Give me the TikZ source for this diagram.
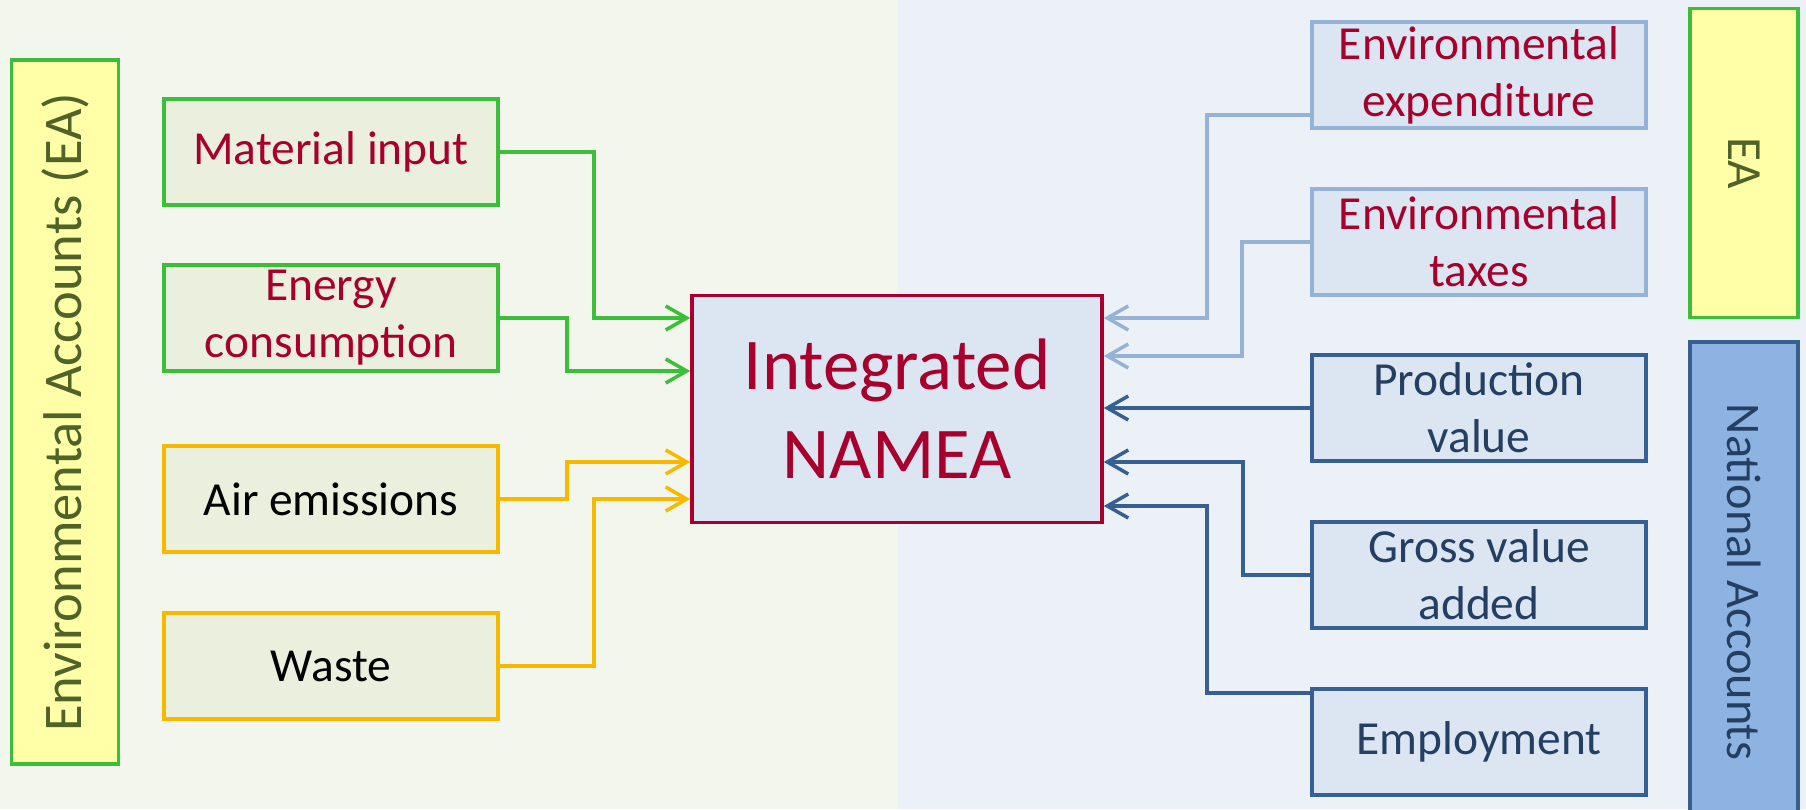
\documentclass[tikz,border=0pt]{standalone}
\usepackage{fontspec}
\setmainfont{Carlito}
\usetikzlibrary{arrows.meta}

\definecolor{leftbg}{HTML}{F3F6EC}
\definecolor{rightbg}{HTML}{ECF1F8}
\definecolor{greenline}{HTML}{3DBE3A}
\definecolor{orangeline}{HTML}{F7B900}
\definecolor{paleblue}{HTML}{95B3D7}
\definecolor{darkblue}{HTML}{376092}
\definecolor{crimson}{HTML}{A8002C}
\definecolor{navytext}{HTML}{243F62}
\definecolor{olivetext}{HTML}{4F6228}
\definecolor{greenfill}{HTML}{EBF0DE}
\definecolor{bluefill}{HTML}{DCE6F2}
\definecolor{barfill}{HTML}{FFFFA8}
\definecolor{nafill}{HTML}{8DB3E2}

\newcommand{\boxfont}{\fontsize{27pt}{32.5pt}\selectfont}
\newcommand{\bigfont}{\fontsize{41.5pt}{50.5pt}\selectfont}

\tikzset{
	envbox/.style   = {draw=greenline, fill=greenfill, rectangle, text=crimson,
		minimum width = 66.8mm, minimum height = 21.2mm, inner sep=0pt,
		align=center, font=\boxfont},
	resbox/.style   = {envbox, draw=orangeline, text=black},
	expbox/.style   = {envbox, draw=paleblue, fill=bluefill},
	nabox/.style    = {envbox, draw=darkblue, fill=bluefill, text=navytext},
	namea/.style    = {draw=crimson, fill=bluefill, rectangle, text=crimson,
		minimum width = 82mm, minimum height = 45.4mm, align=center,
		font=\bigfont},
	sidebar/.style  = {draw=greenline, fill=barfill, rectangle, text=olivetext,
		inner sep=0pt, font=\fontsize{31pt}{37pt}\selectfont},
	nabar/.style    = {sidebar, draw=darkblue, fill=nafill, text=navytext,
		font=\fontsize{27.5pt}{33pt}\selectfont}
}

\begin{document}
\begin{tikzpicture}[x=0.2mm, y=-0.2mm, line width=2pt,
	>={Straight Barb[length=4.2mm, width=4.8mm]}]
% two halves of the sheet
\fill[leftbg] (0,0) rectangle (898,809);
\fill[rightbg] (898,0) rectangle (1806,809);
\useasboundingbox (0,0) rectangle (1806,809);

\draw
% side bars
node at (65,412)[sidebar, rotate=90, minimum width=140.8mm, minimum height=21.4mm] (eabar) {Environmental Accounts (EA)}
node at (1744,163)[sidebar, rotate=-90, minimum width=61.8mm, minimum height=21.6mm, font=\fontsize{28pt}{33pt}\selectfont] (eabar2) {EA}
node at (1744,582)[nabar, rotate=-90, minimum width=96mm, minimum height=21.6mm] (nabar) {National Accounts}
% environmental inputs
node at (331,152)[envbox] (mat) {Material input}
node at (331,318)[envbox] (energy) {Energy\\consumption}
node at (331,499)[resbox] (air) {Air emissions}
node at (331,666)[resbox] (waste) {Waste}
% the integrated table
node at (897,409)[namea] (nam) {Integrated\\NAMEA}
% economic inputs
node at (1479,75)[expbox] (expend) {Environmental\\expenditure}
node at (1479,242)[expbox] (taxes) {Environmental\\taxes}
node at (1479,408)[nabox] (prod) {Production\\value}
node at (1479,575)[nabox] (gva) {Gross value\\added}
node at (1479,742)[nabox] (empl) {Employment};

\draw[->, greenline](mat) -| (594,318) -- (nam.west |- 0,318);
\draw[->, greenline](energy) -| (567,371) -- (nam.west |- 0,371);
\draw[->, orangeline](air) -| (567,462) -- (nam.west |- 0,462);
\draw[->, orangeline](waste) -| (594,499) -- (nam.west |- 0,499);

\draw[->, paleblue](expend.west |- 0,115) -| (1207,318) -- (nam.east |- 0,318);
\draw[->, paleblue](taxes) -| (1242,356) -- (nam.east |- 0,356);
\draw[->, darkblue](prod) -- (nam.east |- prod);
\draw[->, darkblue](gva) -| (1243,462) -- (nam.east |- 0,462);
\draw[->, darkblue](empl.west |- 0,693) -| (1207,506) -- (nam.east |- 0,506);
\end{tikzpicture}
\end{document}
